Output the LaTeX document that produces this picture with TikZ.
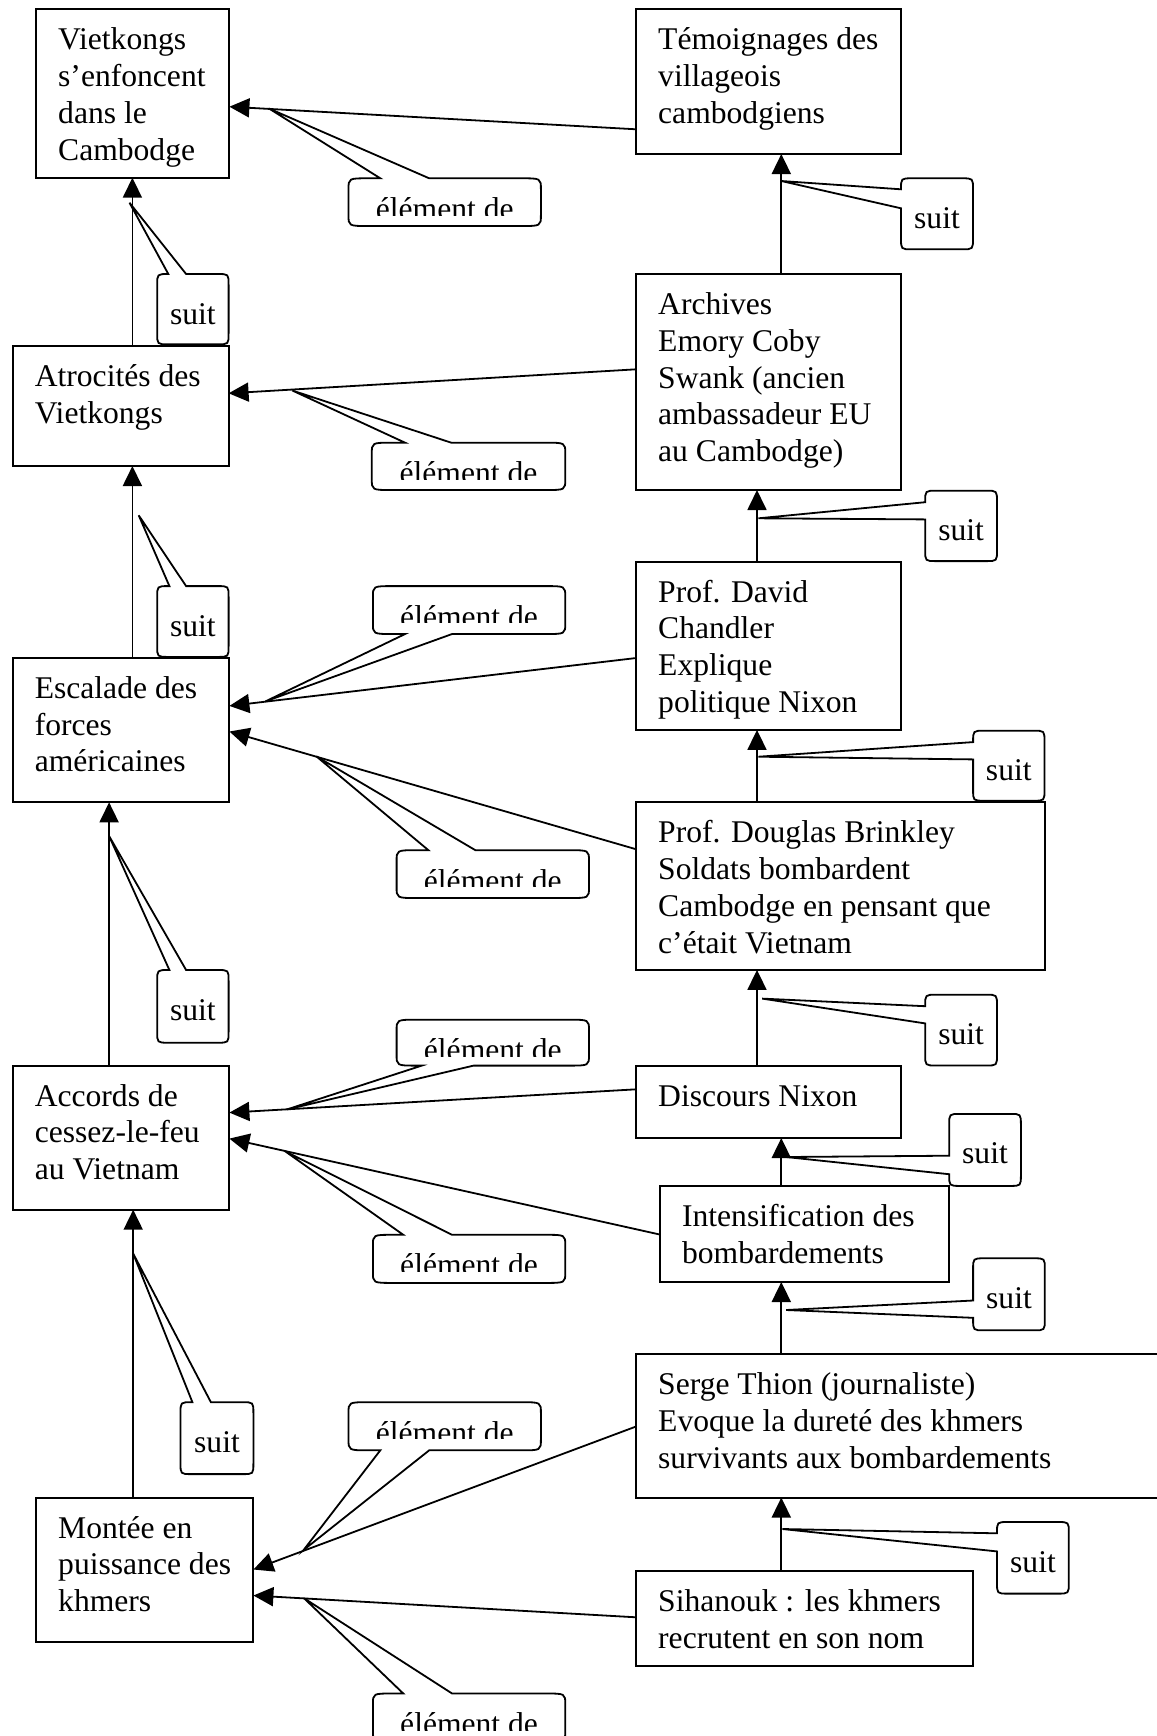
\documentclass[tikz,border=0pt]{standalone}
\usepackage{fontspec}
\setmainfont{Liberation Serif}
\usetikzlibrary{arrows.meta,calc}
\newcommand\rxv{20}
\newcommand\ryv{11}
% callout with wedge on top edge: x1 y1 x2 y2 bx1 bx2 (tip)
\newcommand\callTop[7]{\draw[co] (#1,{#2+\ryv}) .. controls (#1,#2) .. ({#1+\rxv},#2) -- (#5,#2) -- #7 -- (#6,#2) -- ({#3-\rxv},#2) .. controls (#3,#2) .. (#3,{#2+\ryv}) -- (#3,{#4-\ryv}) .. controls (#3,#4) .. ({#3-\rxv},#4) -- ({#1+\rxv},#4) .. controls (#1,#4) .. (#1,{#4-\ryv}) -- cycle;}
% callout with wedge on bottom edge
\newcommand\callBot[7]{\draw[co] (#1,{#2+\ryv}) .. controls (#1,#2) .. ({#1+\rxv},#2) -- ({#3-\rxv},#2) .. controls (#3,#2) .. (#3,{#2+\ryv}) -- (#3,{#4-\ryv}) .. controls (#3,#4) .. ({#3-\rxv},#4) -- (#6,#4) -- #7 -- (#5,#4) -- ({#1+\rxv},#4) .. controls (#1,#4) .. (#1,{#4-\ryv}) -- cycle;}
% callout with wedge on left edge: x1 y1 x2 y2 by1 by2 (tip)
\newcommand\callLeft[7]{\draw[co] (#1,{#2+\ryv}) .. controls (#1,#2) .. ({#1+\rxv},#2) -- ({#3-\rxv},#2) .. controls (#3,#2) .. (#3,{#2+\ryv}) -- (#3,{#4-\ryv}) .. controls (#3,#4) .. ({#3-\rxv},#4) -- ({#1+\rxv},#4) .. controls (#1,#4) .. (#1,{#4-\ryv}) -- (#1,#6) -- #7 -- (#1,#5) -- cycle;}
\tikzset{
  box/.style={draw, line width=1pt, inner sep=0pt, outer sep=0pt, anchor=north west},
  txt/.style={inner sep=0pt, align=left, anchor=base west, font=\fontsize{15.8pt}{18.4pt}\selectfont},
  lab/.style={inner sep=0pt, anchor=base, font=\fontsize{15.8pt}{18.4pt}\selectfont},
  co/.style={draw, line width=0.9pt, fill=white, line join=miter},
  arr/.style={line width=0.9pt, -{Triangle[length=10pt,width=9.5pt]}},
}
\begin{document}
\begin{tikzpicture}[x=0.5pt, y=-0.5pt]
\clip (0,0) rectangle (1157,1736);
\fill[white] (0,0) rectangle (1157,1736);

% ---------- boxes ----------
\node[box, minimum width=96.55pt,  minimum height=84.2pt]  (viet) at (36.3,9.3) {};
\node[box, minimum width=107.85pt, minimum height=60.15pt] (atro) at (12.9,345.7) {};
\node[box, minimum width=108.25pt, minimum height=72.3pt]  (esca) at (12.9,657.7) {};
\node[box, minimum width=108.25pt, minimum height=72.05pt] (acco) at (12.9,1065.6) {};
\node[box, minimum width=108.55pt, minimum height=72.15pt] (mont) at (36.3,1497.6) {};
\node[box, minimum width=132.3pt,  minimum height=72.35pt] (temo) at (636.3,9.3) {};
\node[box, minimum width=132.3pt,  minimum height=108pt]   (arch) at (636.3,274) {};
\node[box, minimum width=132.3pt,  minimum height=84.2pt]  (chan) at (636.3,561.5) {};
\node[box, minimum width=204.25pt, minimum height=83.85pt] (brin) at (636.3,802.2) {};
\node[box, minimum width=132.3pt,  minimum height=36pt]    (disc) at (636.3,1066) {};
\node[box, minimum width=144.5pt,  minimum height=47.85pt] (inte) at (660.2,1186.3) {};
\node[box, minimum width=270pt,    minimum height=71.55pt] (serg) at (636.3,1354.4) {};
\node[box, minimum width=168.4pt,  minimum height=47.5pt]  (siha) at (636.3,1570.8) {};

% ---------- box texts (anchor = baseline of the last line) ----------
\node[txt] (viet-t) at ([shift={(21.5,150.9)}]viet.north west) {Vietkongs\\s’enfoncent\\dans le\\Cambodge};
\node[txt] (atro-t) at ([shift={(21.5,77.3)}]atro.north west) {Atrocités des\\Vietkongs};
\node[txt] (esca-t) at ([shift={(21.5,114.1)}]esca.north west) {Escalade des\\forces\\américaines};
\node[txt] (acco-t) at ([shift={(21.5,114.1)}]acco.north west) {Accords de\\cessez-le-feu\\au Vietnam};
\node[txt] (mont-t) at ([shift={(21.5,114.1)}]mont.north west) {Montée en\\puissance des\\khmers};
\node[txt] (temo-t) at ([shift={(21.5,114.1)}]temo.north west) {Témoignages des\\villageois\\cambodgiens};
\node[txt] (arch-t) at ([shift={(21.5,187.7)}]arch.north west) {Archives\\Emory Coby\\Swank (ancien\\ambassadeur EU\\au Cambodge)};
\node[txt] (chan-t) at ([shift={(21.5,150.9)}]chan.north west) {Prof. David\\Chandler\\Explique\\politique Nixon};
\node[txt] (brin-t) at ([shift={(21.5,150.9)}]brin.north west) {Prof. Douglas Brinkley\\Soldats bombardent\\Cambodge en pensant que\\c’était Vietnam};
\node[txt] (disc-t) at ([shift={(21.5,40.5)}]disc.north west) {Discours Nixon};
\node[txt] (inte-t) at ([shift={(21.5,77.3)}]inte.north west) {Intensification des\\bombardements};
\node[txt] (serg-t) at ([shift={(21.5,114.1)}]serg.north west) {Serge Thion (journaliste)\\Evoque la dureté des khmers\\survivants aux bombardements};
\node[txt] (siha-t) at ([shift={(21.5,77.3)}]siha.north west) {Sihanouk : les khmers\\recrutent en son nom};

% ---------- "élément de" callouts ----------
\callTop{348.5}{178.3}{540.9}{226}{380.3}{429.2}{(269,108.5)}
\callTop{371.8}{442.7}{565.3}{490}{405.1}{451.3}{(292.3,390.5)}
\callBot{372.9}{586.1}{565.3}{634}{405.1}{452.1}{(265.6,701.3)}
\callTop{396.6}{850.2}{589}{898}{428.4}{475.4}{(316.3,756.3)}
\callBot{396.6}{1019.7}{589}{1065.6}{421.8}{473.6}{(286.7,1109.5)}
\callTop{372.9}{1234.8}{565.3}{1282.9}{403.3}{452.1}{(284.9,1151.1)}
\callBot{348.5}{1402.2}{540.9}{1450.3}{380.3}{429.2}{(303.6,1550)}
\callTop{372.9}{1693.5}{565.3}{1741.5}{403.3}{452.1}{(304,1598.2)}

\begin{scope}\clip (348.5,178.3) rectangle (540.9,215);
\node[lab] (e1) at (444.7,219.3) {élément de};\end{scope}
\begin{scope}\clip (371.8,442.7) rectangle (565.3,479.4);
\node[lab] (e2) at (468.5,483.7) {élément de};\end{scope}
\begin{scope}\clip (372.9,586.1) rectangle (565.3,622.8);
\node[lab] (e3) at (469.1,627.1) {élément de};\end{scope}
\begin{scope}\clip (396.6,850.2) rectangle (589,886.9);
\node[lab] (e4) at (492.8,891.2) {élément de};\end{scope}
\begin{scope}\clip (396.6,1019.7) rectangle (589,1056.4);
\node[lab] (e5) at (492.8,1060.7) {élément de};\end{scope}
\begin{scope}\clip (372.9,1234.8) rectangle (565.3,1271.5);
\node[lab] (e6) at (469.1,1275.8) {élément de};\end{scope}
\begin{scope}\clip (348.5,1402.2) rectangle (540.9,1438.9);
\node[lab] (e7) at (444.7,1443.2) {élément de};\end{scope}
\begin{scope}\clip (372.9,1693.5) rectangle (565.3,1730.2);
\node[lab] (e8) at (469.1,1734.5) {élément de};\end{scope}

% ---------- "suit" callouts ----------
\renewcommand\rxv{11}
\renewcommand\ryv{11}
\callTop{157.2}{274}{228.6}{344.3}{168.3}{186.1}{(129.5,202.7)}
\callTop{157.2}{586.1}{228.6}{656.9}{169.4}{186.1}{(138.7,515.3)}
\callTop{157.2}{970}{228.6}{1042.7}{169.4}{186.1}{(109.1,836)}
\callTop{180.5}{1402.2}{253.4}{1474.1}{192.4}{210.9}{(133.2,1253.6)}
\callLeft{901}{178.3}{973}{249.3}{189.3}{208.3}{(781.3,181)}
\callLeft{925.2}{490.7}{997}{561.1}{502.2}{519.4}{(758.5,518.3)}
\callLeft{973.1}{730.7}{1044.5}{800.7}{742.1}{759.4}{(758.5,756.7)}
\callLeft{925.2}{994.7}{997}{1065.5}{1006.2}{1023.4}{(762.2,998.6)}
\callLeft{949.2}{1113.9}{1020.9}{1185.9}{1155.7}{1174.2}{(786.1,1157)}
\callLeft{973.1}{1258.3}{1044.8}{1330.3}{1300.5}{1317.8}{(786.1,1310)}
\callLeft{997}{1522}{1068.8}{1593.6}{1533.3}{1551.4}{(782.4,1529)}

\node[lab] (s1) at (192.9,324) {suit};
\node[lab] (s2) at (192.9,636.1) {suit};
\node[lab] (s3) at (192.9,1020) {suit};
\node[lab] (s4) at (217,1452.2) {suit};
\node[lab] (s5) at (937,228.3) {suit};
\node[lab] (s6) at (961.1,540.7) {suit};
\node[lab] (s7) at (1008.8,780.7) {suit};
\node[lab] (s8) at (961.1,1044.7) {suit};
\node[lab] (s9) at (985,1163.9) {suit};
\node[lab] (s10) at (1009,1308.3) {suit};
\node[lab] (s11) at (1033,1572) {suit};

% ---------- "élément de" connectors ----------
\draw[arr] (temo.west |- 0,129.3) -- (viet.east |- 0,106.7);
\draw[arr] (arch.west |- 0,369.3) -- (atro.east |- 0,393.3);
\draw[arr] (chan.west |- 0,658) -- (esca.east |- 0,705.9);
\draw[arr] (brin.west |- 0,849.3) -- (esca.east |- 0,731.5);
\draw[arr] (disc.west |- 0,1089.3) -- (acco.east |- 0,1112.6);
\draw[arr] (inte.west |- 0,1234.6) -- (acco.east |- 0,1138.6);
\draw[arr] (serg.west |- 0,1426.4) -- (mont.east |- 0,1569.5);
\draw[arr] (siha.west |- 0,1617.3) -- (mont.east |- 0,1595.5);

% ---------- "suit" connectors ----------
\draw[arr] (atro.north -| 132.4,0) -- (viet.south -| 132.4,0);
\draw[arr] (esca.north -| 132.4,0) -- (atro.south -| 132.4,0);
\draw[arr] (acco.north -| 109.1,0) -- (esca.south -| 109.1,0);
\draw[arr] (mont.north -| 133.2,0) -- (acco.south -| 133.2,0);
\draw[arr] (arch.north -| 781.3,0) -- (temo.south -| 781.3,0);
\draw[arr] (chan.north -| 757,0) -- (arch.south -| 757,0);
\draw[arr] (brin.north -| 757,0) -- (chan.south -| 757,0);
\draw[arr] (disc.north -| 757,0) -- (brin.south -| 757,0);
\draw[arr] (inte.north -| 781.3,0) -- (disc.south -| 781.3,0);
\draw[arr] (serg.north -| 781.3,0) -- (inte.south -| 781.3,0);
\draw[arr] (siha.north -| 781.3,0) -- (serg.south -| 781.3,0);
\end{tikzpicture}
\end{document}
